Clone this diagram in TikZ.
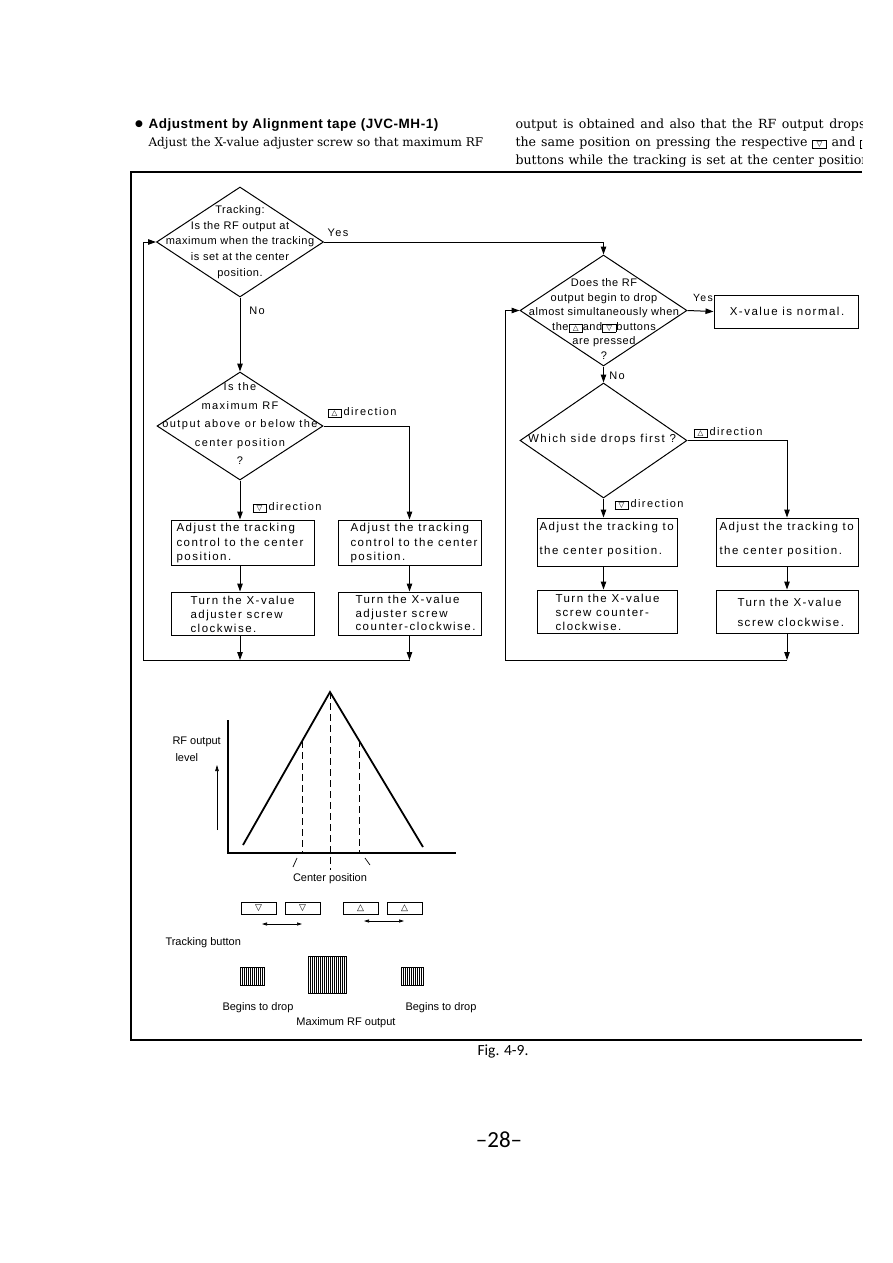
\documentclass[tikz,border=0pt]{standalone}
\usepackage{fontspec}
\setmainfont{DejaVu Serif}
\newfontfamily\fc[LetterSpace=13]{Liberation Sans}
\newfontfamily\fd[LetterSpace=5]{Liberation Sans}
\newfontfamily\hd{Liberation Sans}
\newfontfamily\hdb[LetterSpace=4]{Liberation Sans}
\newfontfamily\djv{DejaVu Sans}
\newfontfamily\carl{Carlito}
\usetikzlibrary{shapes.geometric,arrows.meta}
\newcommand\btnup{{\setlength\fboxsep{0.8pt}\setlength\fboxrule{0.8pt}\fbox{\makebox[11pt]{\djv\fontsize{7.5}{8}\selectfont △}}}}
\newcommand\btndn{{\setlength\fboxsep{0.8pt}\setlength\fboxrule{0.8pt}\fbox{\makebox[11pt]{\djv\fontsize{7.5}{8}\selectfont ▽}}}}
\begin{document}
\begin{tikzpicture}[x=1pt,y=-1pt,line width=1pt,
  dia/.style={diamond,draw,inner sep=0pt},
  box/.style={draw,inner sep=0pt},
  arr/.style={-{Triangle[length=8pt,width=5.5pt]}},
  ft/.style={font=\fc\fontsize{11.5}{14.5}\selectfont,inner sep=0pt,align=left,anchor=west},
  lab/.style={font=\fc\fontsize{11}{13}\selectfont,inner sep=0pt},
  sm/.style={font=\hd\fontsize{11}{12}\selectfont,inner sep=0pt},
  hdr/.style={font=\fontsize{12}{14}\selectfont,inner sep=0pt,anchor=base west},
  hdrr/.style={font=\fontsize{12.6}{14}\selectfont,inner sep=0pt,anchor=base west}]
\useasboundingbox (0,0) rectangle (893,1263);
\fill[white] (0,0) rectangle (893,1263);

% ---------- header ----------
\node[inner sep=0pt,font=\djv\fontsize{9}{9}\selectfont] (bul) at (139,124) {●};
\node[inner sep=0pt,anchor=base west,font=\hdb\bfseries\fontsize{13.5}{15}\selectfont] (h1) at (148,128) {Adjustment by Alignment tape (JVC-MH-1)};
\node[hdr] (h2) at (148,146) {Adjust the X-value adjuster screw so that maximum RF};
\begin{scope}
\clip (0,0) rectangle (862,1263);
\node[hdrr] (h3) at (515,128) {\makebox[350pt][s]{output is obtained and also that the RF output drops}};
\node[hdrr] (h4) at (515,146) {\makebox[359pt][s]{the same position on pressing the respective \btndn{} and \btnup}};
\node[hdrr] (h5) at (515,164) {\makebox[358pt][s]{buttons while the tracking is set at the center position.}};
\end{scope}

% ---------- frame ----------
\draw[line width=1.4pt] (862,172) -- (131,172) -- (131,1040) -- (862,1040);

% ---------- left flow ----------
\node[dia,minimum width=167,minimum height=110] (d1) at (240,242) {};
\node[font=\fd\fontsize{11}{15.8}\selectfont,align=center,inner sep=0pt] (t1) at (240,242)
  {Tracking:\\Is the RF output at\\maximum when the tracking\\is set at the center\\position.};
\node[dia,minimum width=166,minimum height=108] (d2) at (240,426) {};
\node[font=\fc\fontsize{11}{18.5}\selectfont,align=center,inner sep=0pt] (t2) at (240,424)
  {Is the\\maximum RF\\output above or below the\\center position\\?};

\node[box,minimum width=143,minimum height=45] (L1a) at (242.5,542.5) {};
\node[ft] (L1at) at (176,543.5) {Adjust the tracking\\control to the center\\position.};
\node[box,minimum width=143,minimum height=45] (L1b) at (409.5,542.5) {};
\node[ft] (L1bt) at (350,543.5) {Adjust the tracking\\control to the center\\position.};
\node[box,minimum width=143,minimum height=43] (L2a) at (242.5,613.5) {};
\node[ft,font=\fc\fontsize{11.5}{14}\selectfont] (L2at) at (190,614) {Turn the X-value\\adjuster screw\\clockwise.};
\node[box,minimum width=143,minimum height=43] (L2b) at (409.5,613.5) {};
\node[ft,font=\fc\fontsize{11.5}{13.5}\selectfont] (L2bt) at (355,613) {Turn the X-value\\adjuster screw\\counter-clockwise.};

\coordinate (lpL) at (143,660);
\node[lab] (yes1) at (338,233) {Yes};
\draw[arr] (d1.south) -- (d2.north);
\node[lab] (no1) at (257,311) {No};
\draw[arr] (d2.east) -- (d2.east -| L1b.north) -- (L1b.north);
\node[lab,anchor=west] (dirL1) at (327,413) {\btnup\,direction};
\draw[arr] (d2.south) -- (d2.south |- L1a.north);
\node[lab,anchor=west] (dirL2) at (252,508) {\btndn\,direction};
\draw[arr] (L1a.south -| d2.south) -- (L2a.north -| d2.south);
\draw[arr] (L1b.south) -- (L2b.north);
\draw[arr] (L2a.south -| d2.south) -- (lpL -| d2.south);
\draw[arr] (L2b.south) -- (lpL -| L2b.south);
\draw (lpL -| L2b.south) -- (lpL) -- (lpL |- d1.west);
\draw[arr] (lpL |- d1.west) -- (d1.west);

% ---------- right flow ----------
\node[dia,minimum width=167,minimum height=111] (r1) at (603.5,310.5) {};
\draw[arr] (d1.east) -- (d1.east -| r1.north) -- (r1.north);
\node[font=\fd\fontsize{11}{14.6}\selectfont,align=center,inner sep=0pt] (rt1) at (604,319)
  {Does the RF\\output begin to drop\\almost simultaneously when\\the\btnup and\btndn buttons\\are pressed\\?};
\node[box,minimum width=144,minimum height=33] (bx) at (786,311.5) {};
\node[font=\fc\fontsize{11.5}{13}\selectfont,inner sep=0pt] (bxt) at (787,311.5) {X-value is normal.};
\node[dia,minimum width=167,minimum height=115] (r2) at (603.5,440.5) {};
\node[font=\fc\fontsize{11.5}{13}\selectfont,inner sep=0pt] (rt2) at (602,440) {Which side drops first ?};

\node[box,minimum width=140,minimum height=48] (R1a) at (607,542) {};
\node[ft,font=\fc\fontsize{11.5}{24}\selectfont] (R1at) at (539,540) {Adjust the tracking to\\the center position.};
\node[box,minimum width=142,minimum height=48] (R1b) at (787,542) {};
\node[ft,font=\fc\fontsize{11.5}{24}\selectfont] (R1bt) at (719,540) {Adjust the tracking to\\the center position.};
\node[box,minimum width=140,minimum height=43] (R2a) at (607,611.5) {};
\node[ft,font=\fc\fontsize{11.5}{14}\selectfont] (R2at) at (555,612) {Turn the X-value\\screw counter-\\clockwise.};
\node[box,minimum width=142,minimum height=43] (R2b) at (787,611.5) {};
\node[ft,font=\fc\fontsize{11.5}{20}\selectfont] (R2bt) at (737,612) {Turn the X-value\\screw clockwise.};

\coordinate (lpR) at (505,660);
\draw[arr] (r1.east) -- (bx.west);
\node[lab,font=\fc\fontsize{10.5}{12}\selectfont] (yes2) at (703,298) {Yes};
\draw[arr] (r1.south) -- (r2.north);
\node[lab] (no2) at (617,376) {No};
\draw[arr] (r2.east) -- (r2.east -| R1b.north) -- (R1b.north);
\node[lab,anchor=west] (dirR1) at (693,433) {\btnup\,direction};
\draw[arr] (r2.south) -- (r2.south |- R1a.north);
\node[lab,anchor=west] (dirR2) at (614,505) {\btndn\,direction};
\draw[arr] (R1a.south -| r2.south) -- (R2a.north -| r2.south);
\draw[arr] (R1b.south) -- (R2b.north);
\draw[arr] (R2b.south) -- (lpR -| R2b.south);
\draw (lpR -| R2b.south) -- (lpR) -- (lpR |- r1.west);
\draw[arr] (lpR |- r1.west) -- (r1.west);

% ---------- graph ----------
\draw[line width=1.2pt] (228,720) -- (228,853) -- (456,853);
\draw[-{Triangle[length=6pt,width=3.5pt]},line width=0.7pt] (217,830) -- (217,765);
\node[sm,anchor=west] (rf1) at (172,742) {RF output};
\node[sm,anchor=west] (rf2) at (175,758) {level};
\draw[line width=1.8pt,line join=miter] (243,845) -- (330,692) -- (423,847);
\draw[line width=0.8pt,dash pattern=on 7pt off 4pt] (302,741) -- (302,853);
\draw[line width=0.8pt,dash pattern=on 7pt off 4pt] (330,692) -- (330,870);
\draw[line width=0.8pt,dash pattern=on 7pt off 4pt] (359,740) -- (359,853);
\draw[line width=0.7pt] (293,867) -- (297,858);
\draw[line width=0.7pt] (365,858) -- (370,865);
\node[sm] (cp) at (330,879) {Center position};

\foreach \x/\s [count=\i] in {258.5/▽,302.5/▽,360.5/△,404.5/△}
  \node[draw,line width=1pt,minimum width=35,minimum height=12,inner sep=0pt,font=\djv\fontsize{9}{9}\selectfont] (btn\i) at (\x,908) {\s};
\draw[{Triangle[length=5pt,width=3pt]}-{Triangle[length=5pt,width=3pt]},line width=0.7pt] (262,924) -- (302,924);
\draw[{Triangle[length=5pt,width=3pt]}-{Triangle[length=5pt,width=3pt]},line width=0.7pt] (364,921) -- (404,921);
\node[sm,anchor=west] (tb) at (165,943) {Tracking button};

\draw[line width=0.7pt] (240,967) rectangle (264,985);
\foreach \i in {1,...,11} \draw[line width=0.6pt] (240+\i*2,967) -- ++(0,18);
\draw[line width=0.7pt] (308,956) rectangle (346,993);
\foreach \i in {1,...,18} \draw[line width=0.6pt] (308+\i*2,956) -- ++(0,37);
\draw[line width=0.7pt] (401,967) rectangle (423,985);
\foreach \i in {1,...,10} \draw[line width=0.6pt] (401+\i*2,967) -- ++(0,18);
\node[sm,anchor=west] (bd1) at (222,1008) {Begins to drop};
\node[sm,anchor=west] (bd2) at (405,1008) {Begins to drop};
\node[sm] (mx) at (346,1023) {Maximum RF output};

% ---------- caption ----------
\node[font=\carl\fontsize{15.5}{17}\selectfont,inner sep=0pt] (fig) at (503,1051) {Fig. 4-9.};
\node[font=\carl\fontsize{23}{25}\selectfont,inner sep=0pt] (pg) at (499,1140) {–28–};
\end{tikzpicture}
\end{document}
